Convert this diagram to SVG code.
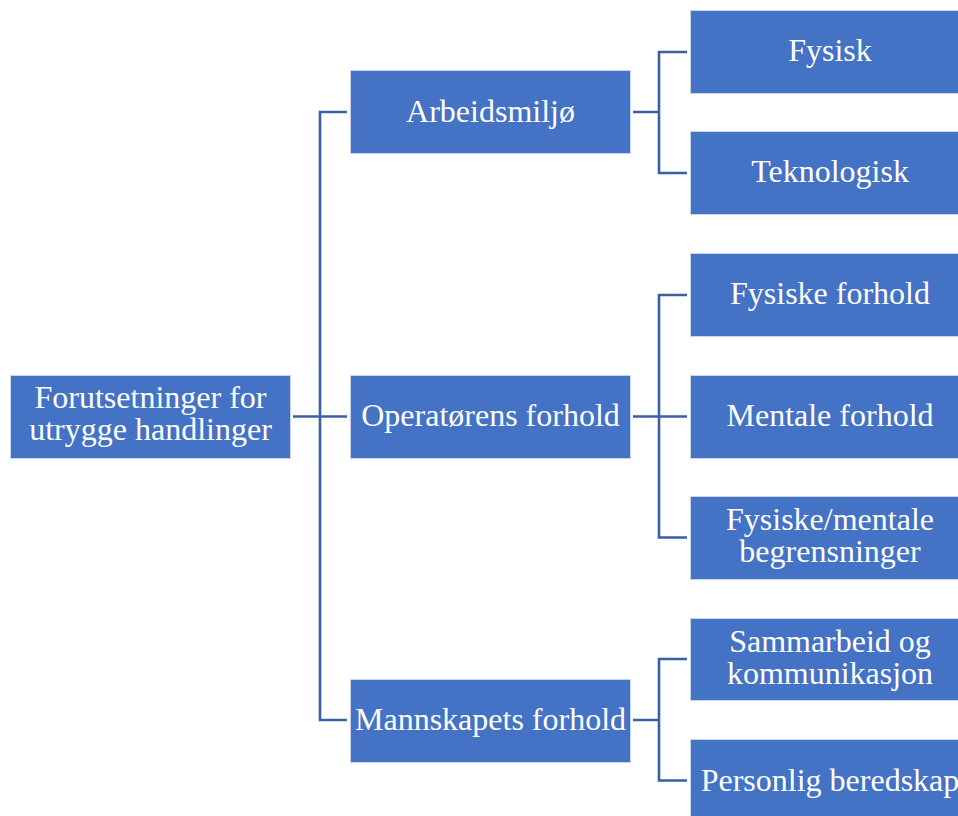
<svg xmlns="http://www.w3.org/2000/svg" width="958" height="816" viewBox="0 0 958 816">
<style>
.box{fill:#4472C4;stroke:#C9D5EC;stroke-width:1}
.t{font-family:"Liberation Serif","Times New Roman",serif;font-size:32px;fill:#FFFFFF;text-anchor:middle}
.c{fill:none;stroke:#3A5FA5;stroke-width:2.6}
</style>
<rect width="958" height="816" fill="#FFFFFF"/>
<g id="connectors">
<path class="c" d="M293,416.5H347"/>
<path class="c" d="M347,112H320V720H347"/>
<path class="c" d="M633,112H659M687,52H659V173H687"/>
<path class="c" d="M633,416.5H687M687,295H659V537.5H687"/>
<path class="c" d="M633,720H659M687,659H659V780.5H687"/>
</g>
<g id="root"><rect class="box" x="10.5" y="375.5" width="280" height="83"/><text class="t" x="150.5" y="408">Forutsetninger for</text><text class="t" x="150.5" y="440">utrygge handlinger</text></g>
<g id="arbeidsmiljo"><rect class="box" x="350.5" y="70.5" width="280" height="83"/><text class="t" x="490.5" y="122">Arbeidsmiljø</text></g>
<g id="operatorens"><rect class="box" x="350.5" y="375.5" width="280" height="83"/><text class="t" x="490.5" y="426">Operatørens forhold</text></g>
<g id="mannskapets"><rect class="box" x="350.5" y="679.5" width="280" height="83"/><text class="t" x="490.5" y="730">Mannskapets forhold</text></g>
<g id="fysisk"><rect class="box" x="690.5" y="10.5" width="280" height="83"/><text class="t" x="830" y="61">Fysisk</text></g>
<g id="teknologisk"><rect class="box" x="690.5" y="131.5" width="280" height="83"/><text class="t" x="830" y="182">Teknologisk</text></g>
<g id="fysiske-forhold"><rect class="box" x="690.5" y="253.5" width="280" height="83"/><text class="t" x="830" y="304">Fysiske forhold</text></g>
<g id="mentale-forhold"><rect class="box" x="690.5" y="375.5" width="280" height="83"/><text class="t" x="830" y="426">Mentale forhold</text></g>
<g id="begrensninger"><rect class="box" x="690.5" y="496.5" width="280" height="83"/><text class="t" x="830" y="530">Fysiske/mentale</text><text class="t" x="830" y="562">begrensninger</text></g>
<g id="sammarbeid"><rect class="box" x="690.5" y="618.5" width="280" height="82"/><text class="t" x="830" y="652">Sammarbeid og</text><text class="t" x="830" y="684">kommunikasjon</text></g>
<g id="personlig"><rect class="box" x="690.5" y="739.5" width="280" height="83"/><text class="t" x="830" y="791">Personlig beredskap</text></g>
</svg>
